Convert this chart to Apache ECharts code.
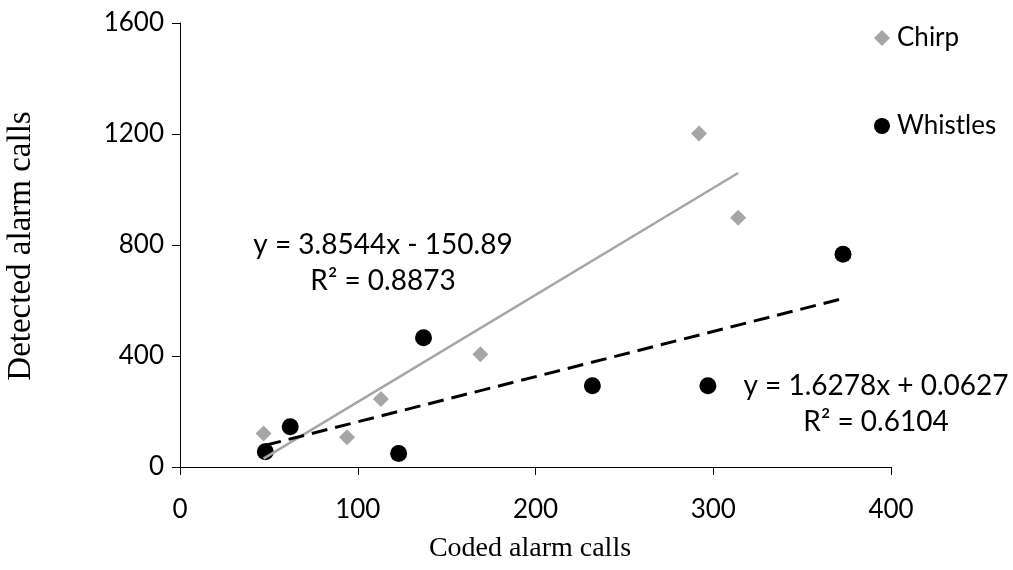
<!DOCTYPE html>
<html>
<head>
<meta charset="utf-8">
<script src="https://cdn.jsdelivr.net/npm/echarts@6/dist/echarts.min.js"></script>
<style>
html,body{margin:0;padding:0;background:#fff;}
#main{width:1013px;height:570px;}
</style>
</head>
<body>
<div id="main"></div>
<script>
// ---- data ----
const chirpX = [47, 94, 113, 169, 292, 314];
const chirpY = [121, 107, 245, 406, 1202, 898];
const whistleX = [48, 62, 123, 137, 232, 297, 373];
const whistleY = [55, 145, 49, 466, 293, 293, 767];
const chirpFit = {slope: 3.8544, intercept: -150.89};
const whistleFit = {slope: 1.6278, intercept: 0.0627};
const chirpEqText = ['y = 3.8544x - 150.89', 'R\u00B2 = 0.8873'];
const whistleEqText = ['y = 1.6278x + 0.0627', 'R\u00B2 = 0.6104'];
const xTicks = [0, 100, 200, 300, 400];
const yTicks = [0, 400, 800, 1200, 1600];
const xTitle = 'Coded alarm calls';
const yTitle = 'Detected alarm calls';
const seriesNames = ['Chirp', 'Whistles'];

function pairs(xs, ys){ return xs.map((x,i)=>[x, ys[i]]); }
function fitLine(xs, fit){
  const lo = Math.min(...xs), hi = Math.max(...xs);
  return [[lo, fit.slope*lo + fit.intercept],[hi, fit.slope*hi + fit.intercept]];
}

const FONT = 'Lato';
const chart = echarts.init(document.getElementById('main'));
const labelStyle = {fontFamily: FONT, fontSize: 26, color: '#000', formatter: v => String(v)};

chart.setOption({
  animation: false,
  backgroundColor: '#fff',
  grid: {left: 180, right: 122, top: 23, bottom: 103},
  xAxis: {
    type: 'value', min: xTicks[0], max: xTicks[xTicks.length-1], interval: 100,
    splitLine: {show: false},
    axisLine: {show: true, onZero: false, lineStyle: {color: '#000', width: 1}},
    axisTick: {show: true, inside: false, length: 8, lineStyle: {color: '#000'}},
    axisLabel: Object.assign({margin: 30}, labelStyle)
  },
  yAxis: {
    type: 'value', min: yTicks[0], max: yTicks[yTicks.length-1], interval: 400,
    splitLine: {show: false},
    axisLine: {show: true, lineStyle: {color: '#000', width: 1}},
    axisTick: {show: true, inside: false, length: 8, lineStyle: {color: '#000'}},
    axisLabel: Object.assign({margin: 16}, labelStyle)
  },
  legend: {
    data: seriesNames,
    orient: 'vertical',
    left: 869, top: 18,
    itemGap: 58,
    itemWidth: 16, itemHeight: 16,
    textStyle: {fontFamily: FONT, fontSize: 26, color: '#000', lineHeight: 30, padding: [0,0,0,2]}
  },
  series: [
    {
      name: seriesNames[0], type: 'scatter', symbol: 'diamond', symbolSize: 16,
      itemStyle: {color: '#A6A6A6', opacity: 1}, data: pairs(chirpX, chirpY), z: 2
    },
    {
      name: seriesNames[1], type: 'scatter', symbol: 'circle', symbolSize: 17,
      itemStyle: {color: '#000', opacity: 1}, data: pairs(whistleX, whistleY), z: 2
    },
    {
      type: 'line', data: fitLine(chirpX, chirpFit), showSymbol: false, symbol: 'none',
      lineStyle: {color: '#A6A6A6', width: 2.5}, z: 3, silent: true
    },
    {
      type: 'line', data: fitLine(whistleX, whistleFit), showSymbol: false, symbol: 'none',
      lineStyle: {color: '#000', width: 3, type: [16, 8]}, z: 3, silent: true
    }
  ],
  graphic: [
    {type: 'text', x: 383, y: 245, style: {text: chirpEqText[0], font: '28px Lato', fill: '#000', textAlign: 'center', textVerticalAlign: 'middle'}},
    {type: 'text', x: 383, y: 281, style: {text: chirpEqText[1], font: '28px Lato', fill: '#000', textAlign: 'center', textVerticalAlign: 'middle'}},
    {type: 'text', x: 876, y: 386, style: {text: whistleEqText[0], font: '28px Lato', fill: '#000', textAlign: 'center', textVerticalAlign: 'middle'}},
    {type: 'text', x: 876, y: 422, style: {text: whistleEqText[1], font: '28px Lato', fill: '#000', textAlign: 'center', textVerticalAlign: 'middle'}},
    {type: 'text', x: 530, y: 549, style: {text: xTitle, font: '28px "Liberation Serif"', fill: '#000', textAlign: 'center', textVerticalAlign: 'middle'}},
    {type: 'text', x: 21, y: 246, rotation: Math.PI/2, style: {text: yTitle, font: '33px "Liberation Serif"', fill: '#000', textAlign: 'center', textVerticalAlign: 'middle'}}
  ]
});
</script>
</body>
</html>
